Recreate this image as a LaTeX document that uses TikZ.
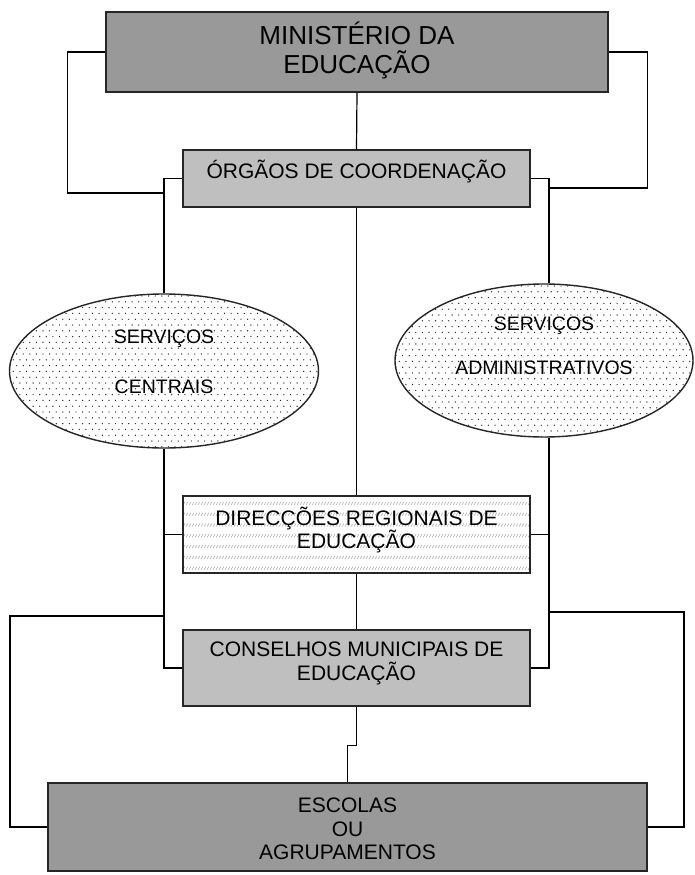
\documentclass[tikz,border=0pt]{standalone}
\usepackage{fontspec}
\setmainfont{Liberation Sans}
\usetikzlibrary{shapes.geometric}
\begin{document}
\begin{tikzpicture}[x=1pt,y=-1pt,
  conn/.style={line width=1.2pt, black},
  trunk/.style={line width=1.8pt, black},
  shp/.style={draw=black!85, line width=1.4pt, inner sep=0pt},
  rbox/.style={shp, rectangle},
  dark/.style={rbox, fill=black!40},
  light/.style={rbox, fill=black!25},
  bigfont/.style={font=\fontsize{26}{29}\selectfont},
  midfont/.style={font=\fontsize{21}{23.7}\selectfont},
  dotmark/.style={fill=black!85},
  hatchmark/.style={draw=black!32, line width=0.55pt}
]
\useasboundingbox (0,0) rectangle (694,875);

% dotted fill of the two ellipses
\begin{scope}
  \clip (164,371) ellipse [x radius=154.5, y radius=77];
  \foreach \j in {0,...,27}{\foreach \i in {0,...,47}{
    \fill[dotmark] ({10+\i*6.6+mod(\j,2)*3.3},{296+\j*5.8}) circle (0.7);}}
\end{scope}
\begin{scope}
  \clip (544,360.5) ellipse [x radius=149, y radius=76.5];
  \foreach \j in {0,...,27}{\foreach \i in {0,...,46}{
    \fill[dotmark] ({396+\i*6.6+mod(\j,2)*3.3},{286+\j*5.8}) circle (0.7);}}
\end{scope}
% hatched fill of the regional box
\begin{scope}
  \clip (183,496) rectangle (530,573);
  \foreach \j in {0,...,6}{\foreach \i in {0,...,116}{
    \draw[hatchmark] ({183+\i*3},{505+\j*10.8}) -- ++(2,-3.2);}}
\end{scope}

% nodes
\node[dark, minimum width=502pt, minimum height=80pt,
  label={[name=minT, align=center, bigfont, yshift=2pt]center:{MINISTÉRIO DA\\EDUCAÇÃO}}] (min) at (357,52) {};
\node[light, minimum width=347pt, minimum height=57pt,
  label={[name=orgT, align=center, midfont, yshift=7pt]center:{ÓRGÃOS DE COORDENAÇÃO}}] (org) at (356.5,178.5) {};
\node[shp, ellipse, minimum width=309pt, minimum height=154pt,
  label={[name=scT, align=center, font=\fontsize{19.5}{50}\selectfont, yshift=9pt]center:{SERVIÇOS\\CENTRAIS}}] (sc) at (164,371) {};
\node[shp, ellipse, minimum width=298pt, minimum height=153pt,
  label={[name=saT, align=center, font=\fontsize{19.5}{44}\selectfont, yshift=15pt]center:{SERVIÇOS\\ADMINISTRATIVOS}}] (sa) at (544,360.5) {};
\node[rbox, minimum width=347pt, minimum height=77pt,
  label={[name=dreT, align=center, midfont, yshift=4.5pt]center:{DIRECÇÕES REGIONAIS DE\\EDUCAÇÃO}}] (dre) at (356.5,534.5) {};
\node[light, minimum width=347pt, minimum height=76pt,
  label={[name=cmeT, align=center, midfont, yshift=4.5pt]center:{CONSELHOS MUNICIPAIS DE\\EDUCAÇÃO}}] (cme) at (356.5,668) {};
\node[dark, minimum width=599pt, minimum height=88pt,
  label={[name=escT, align=center, midfont, yshift=-2pt]center:{ESCOLAS\\OU\\AGRUPAMENTOS}}] (esc) at (347.5,827) {};

% junction coordinates
\coordinate (rx) at (549,0);
\coordinate (lj1) at (164,193);
\coordinate (rj1) at (549,188);
\coordinate (lj2) at (164,616);
\coordinate (rj2) at (549,612);

% connectors
\draw[conn] (min.south) -- (org.north);
\draw[conn] (min.west) -- ++(-38,0) |- (lj1);
\draw[conn] (min.east) -- ++(39,0) |- (rj1);
\draw[conn] (org.west) -| (lj1);
\draw[trunk] (lj1) -- (sc.north);
\draw[conn] (org.east) -| (rj1);
\draw[trunk] (rj1) -- (sa.north -| rx);
\draw[conn] (org.south) -- (dre.north);
\draw[conn] (dre.south) -- (cme.north);
\draw[trunk] (sc.south) -- (lj2);
\draw[conn] (lj2) |- (cme.west);
\draw[trunk] (sa.south -| rx) -- (rj2);
\draw[conn] (rj2) |- (cme.east);
\draw[conn] (dre.west) -- (dre.west -| lj2);
\draw[conn] (dre.east) -- (dre.east -| rx);
\draw[conn] (lj2) -- ++(-154,0) |- (esc.west);
\draw[conn] (rj2) -- ++(135,0) |- (esc.east);
\draw[conn] (cme.south) -- ++(0,39) -| (esc.north);
\end{tikzpicture}
\end{document}
